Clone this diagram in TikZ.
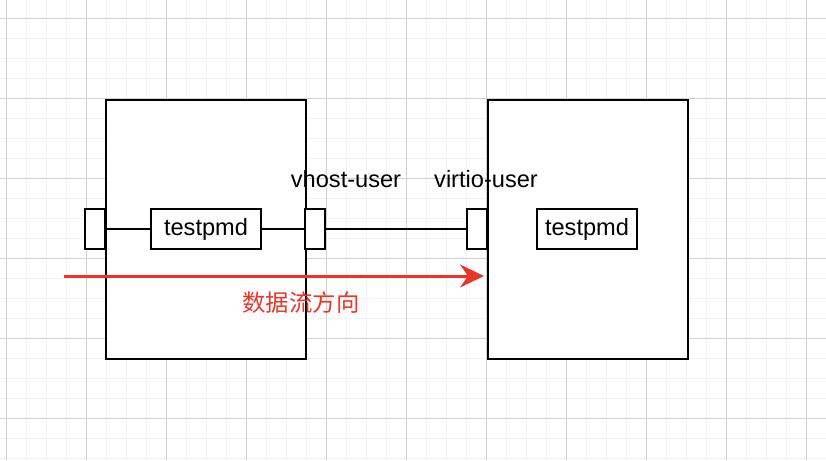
\documentclass[tikz,border=0pt]{standalone}
\usepackage{fontspec}
\setmainfont{Liberation Sans}
\newfontfamily\cjk{Noto Sans CJK SC}
\usetikzlibrary{arrows.meta}
\definecolor{flowred}{RGB}{234,54,40}
\definecolor{gridmajor}{RGB}{208,208,208}
\definecolor{gridminor}{RGB}{243,243,243}
\begin{document}
\begin{tikzpicture}[x=1pt,y=-1pt,
  minorline/.style={draw=gridminor,line width=1.5pt},
  majorline/.style={draw=gridmajor,line width=0.8pt},
  hostbox/.style={draw=black,fill=white,line width=2pt,minimum width=200pt,minimum height=259pt,inner sep=0pt,anchor=north west},
  portbox/.style={draw=black,fill=white,line width=2pt,minimum width=20pt,minimum height=40pt,inner sep=0pt},
  appbox/.style={draw=black,fill=white,line width=2pt,inner sep=0pt,font=\fontsize{23.6}{28}\selectfont},
  lbl/.style={font=\fontsize{23.6}{28}\selectfont,inner sep=0pt,anchor=base},
  wire/.style={draw=black,line width=2pt},
  flow/.style={draw=flowred,line width=3pt,-{Stealth[length=24pt,width=23pt,inset=8pt]}}
]
\useasboundingbox (0,0) rectangle (826,460);
\fill[white] (0,0) rectangle (826,460);
% grid
\foreach \x in {6.5,26.5,...,826} \draw[minorline] (\x,0) -- (\x,460);
\foreach \y in {-1.7,18.3,...,460} \draw[minorline] (0,\y) -- (826,\y);
\foreach \x in {6.5,86.5,...,826} \draw[majorline] (\x,0) -- (\x,460);
\foreach \y in {18.3,98.3,...,460} \draw[majorline] (0,\y) -- (826,\y);
% hosts
\node[hostbox] (L) at (105,99) {};
\node[hostbox] (R) at (487,99) {};
% ports
\node[portbox] (lp1) at (95,229) {};
\node[portbox] (lp2) at (315,229) {};
\node[portbox] (rp) at (477,229) {};
% apps
\node[appbox,minimum width=110pt,minimum height=40pt] (tl) at (206,229) {testpmd};
\node[appbox,minimum width=100pt,minimum height=40pt] (tr) at (587,229) {testpmd};
% wires
\draw[wire] (lp1.east) -- (tl.west);
\draw[wire] (tl.east) -- (lp2.west);
\draw[wire] (lp2.east) -- (rp.west);
% labels
\node[lbl] (vh) at (346,187) {vhost-user};
\node[lbl] (vu) at (486,187) {virtio-user};
% flow arrow
\coordinate (fs) at (64,276);
\coordinate (fe) at (484,276);
\draw[flow] (fs) -- (fe);
\node[text=flowred,inner sep=0pt,font=\cjk\fontsize{23.4}{28}\selectfont] (cn) at (301,303) {数据流方向};
\end{tikzpicture}
\end{document}
